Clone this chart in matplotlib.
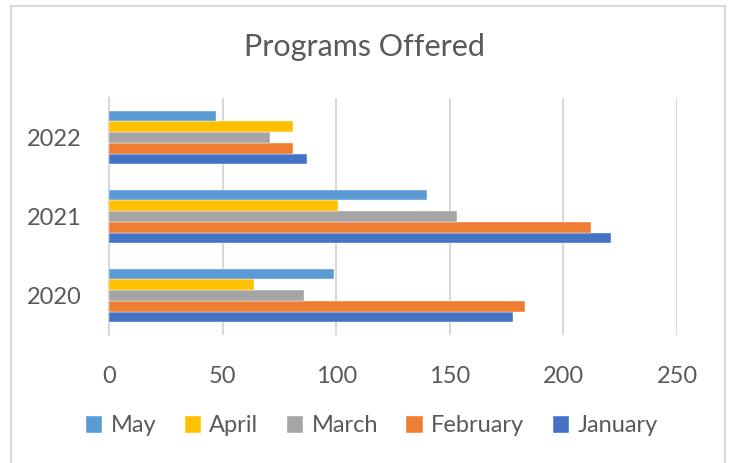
import matplotlib
matplotlib.use("Agg")
import matplotlib.pyplot as plt
from matplotlib.patches import Rectangle
import numpy as np

years = ["2020", "2021", "2022"]
series = ["January", "February", "March", "April", "May"]
january = [178, 221, 87]
february = [183, 212, 81]
march = [86, 153, 71]
april = [64, 101, 81]
may = [99, 140, 47]
colors = ["#4472C4", "#ED7D31", "#A5A5A5", "#FFC000", "#5B9BD5"]

plt.rcParams["font.family"] = ["Lato", "DejaVu Sans"]
TXT = "#595959"
GRID = "#D9D9D9"

fig = plt.figure(figsize=(7.29, 4.63), dpi=100)
ax = fig.add_axes([109 / 729, 1 - 335 / 463, (677 - 109) / 729, (335 - 98) / 463])

values = [january, february, march, april, may]
y = np.arange(len(years))
h = 0.68 / len(series)
handles = []
for i, (name, vals, c) in enumerate(zip(series, values, colors)):
    b = ax.barh(y + (i - 2) * h, vals, height=h, color=c, label=name,
                edgecolor="white", linewidth=0.3, zorder=3)
    handles.append(b)

ax.set_xlim(0, 250)
ax.set_ylim(-0.5, 2.5)
ax.set_xticks(range(0, 251, 50))
ax.set_yticks(y)
ax.set_yticklabels(years)
ax.grid(axis="x", color=GRID, linewidth=1.5, zorder=0)
for s in ["top", "right", "bottom"]:
    ax.spines[s].set_visible(False)
ax.spines["left"].set_color(GRID)
ax.spines["left"].set_linewidth(1.5)
ax.tick_params(axis="both", length=0, labelsize=17, labelcolor=TXT)
ax.tick_params(axis="x", pad=22)
ax.tick_params(axis="y", pad=20)

fig.text(0.5, 1 - 47 / 463, "Programs Offered", ha="center", va="center",
         fontsize=22, color=TXT)

# legend sits a touch right of centre in the original
leg = fig.legend(handles[::-1], series[::-1], loc="center",
                 bbox_to_anchor=(0.51, 1 - 426 / 463), ncol=5, frameon=False,
                 fontsize=17, handlelength=0.7, handleheight=0.7,
                 handletextpad=0.35, columnspacing=1.2, labelcolor=TXT)

fig.patches.append(Rectangle((11 / 729, -0.05), (725 - 11) / 729, 1.05 - 6 / 463,
                             transform=fig.transFigure, fill=False,
                             edgecolor=GRID, linewidth=1.5))

fig.savefig("out.png", dpi=100)
